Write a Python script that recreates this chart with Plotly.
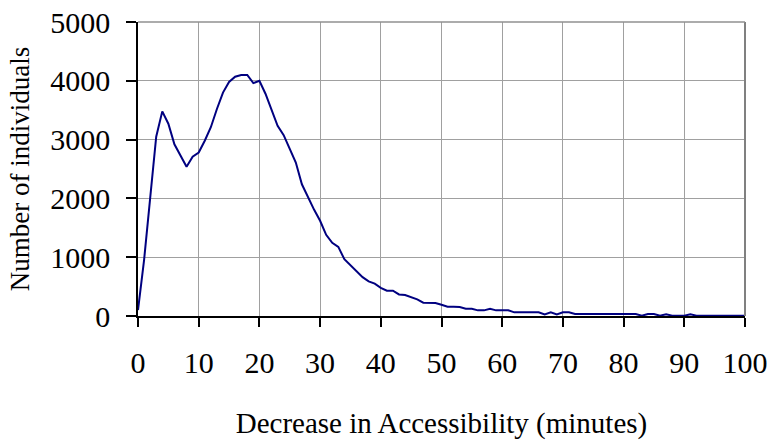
import plotly.graph_objects as go

minutes = list(range(0, 101))
individuals = [
    100, 950, 2000, 3050, 3480, 3270, 2920, 2720, 2540, 2710,
    2780, 2980, 3210, 3520, 3800, 3980, 4070, 4100, 4100, 3960,
    4000, 3780, 3500, 3235, 3075, 2850, 2610, 2240, 2010, 1810,
    1620, 1380, 1245, 1175, 965, 865, 765, 660, 590, 550,
    480, 430, 430, 367, 356, 322, 282, 226, 226, 220,
    192, 158, 158, 152, 124, 124, 96, 96, 124, 96,
    96, 96, 62, 62, 62, 62, 62, 25, 62, 25,
    62, 62, 34, 34, 34, 34, 34, 34, 34, 34,
    34, 34, 34, 5, 34, 34, 5, 30, 5, 5,
    5, 30, 5, 5, 5, 5, 5, 5, 5, 5,
    5,
]
x_ticks = list(range(0, 101, 10))
y_ticks = list(range(0, 5001, 1000))

font_family = "Liberation Serif, Times New Roman, serif"

fig = go.Figure()
fig.add_trace(go.Scatter(
    x=minutes, y=individuals, mode="lines",
    line=dict(color="#000080", width=2),
    showlegend=False, hoverinfo="skip",
))

fig.update_layout(
    width=772, height=444,
    margin=dict(l=138, r=27, t=22, b=128),
    paper_bgcolor="white", plot_bgcolor="white",
    font=dict(family=font_family, color="black"),
    xaxis=dict(
        range=[0, 100], tickvals=x_ticks, ticktext=[str(v) for v in x_ticks],
        showgrid=True, gridcolor="#a0a0a0", gridwidth=1,
        showline=True, linecolor="black", linewidth=1.5,
        ticks="outside", ticklen=9, tickcolor="black", tickwidth=1.5,
        tickfont=dict(size=30, family=font_family),
        ticklabelstandoff=10, ticklabeloverflow="allow",
        automargin=False,
        title=dict(text="Decrease in Accessibility (minutes)", font=dict(size=29, family=font_family), standoff=35),
        zeroline=False,
    ),
    yaxis=dict(
        range=[0, 5000], tickvals=y_ticks, ticktext=[str(v) for v in y_ticks],
        showgrid=True, gridcolor="#a0a0a0", gridwidth=1,
        showline=True, linecolor="black", linewidth=1.5,
        ticks="outside", ticklen=10, tickcolor="black", tickwidth=1.5,
        tickfont=dict(size=30, family=font_family),
        ticklabelstandoff=10, ticklabeloverflow="allow",
        automargin=False,
        title=dict(text="Number of individuals", font=dict(size=27, family=font_family), standoff=13),
        zeroline=False,
    ),
    shapes=[
        dict(type="line", xref="paper", yref="paper", x0=1, x1=1, y0=0, y1=1,
             line=dict(color="#808080", width=2)),
        dict(type="line", xref="paper", yref="paper", x0=0, x1=1, y0=1, y1=1,
             line=dict(color="#909090", width=1.5)),
    ],
)

# remove the default 8px page margin so the figure fills the window exactly
fig.write_html(
    "out.html",
    config={"displayModeBar": False},
    post_script="document.body.style.margin='0';",
)
